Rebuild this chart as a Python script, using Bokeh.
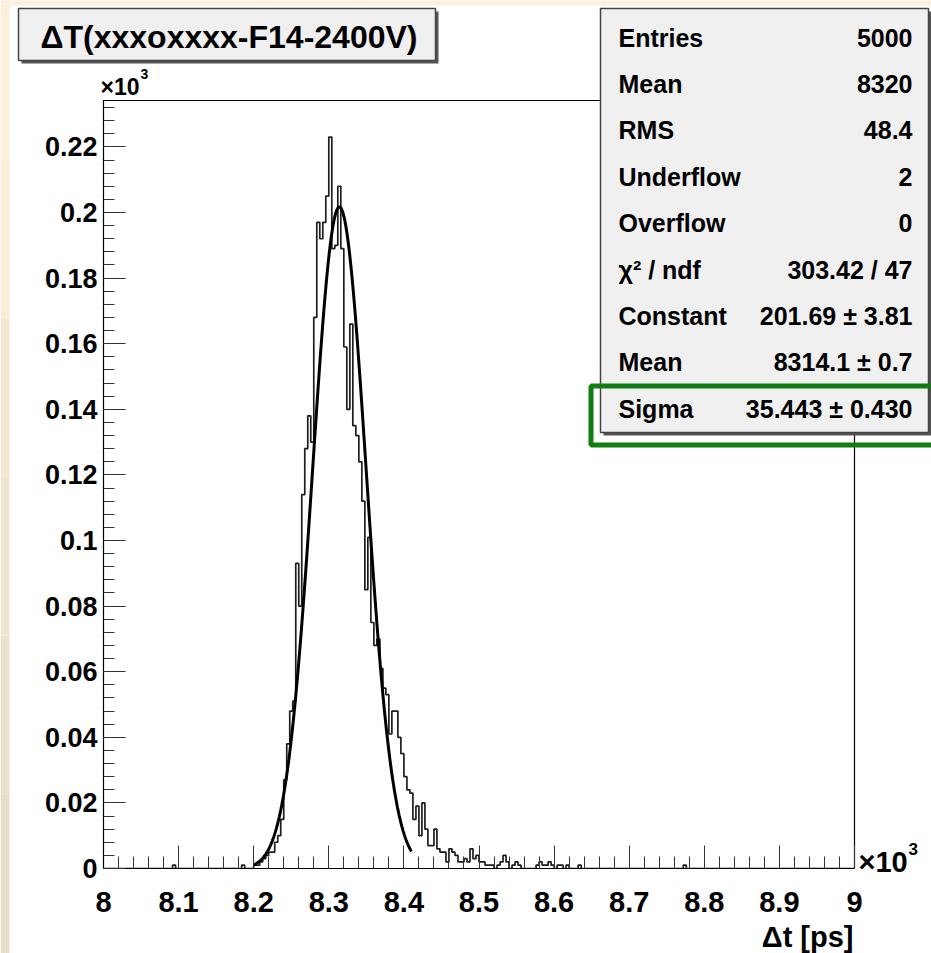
import numpy as np
from bokeh.plotting import figure
from bokeh.models import FixedTicker, Range1d
from bokeh.core.properties import value
from bokeh.embed import file_html
from bokeh.resources import INLINE

# ---------------- data ----------------
hist_start = 8000.0      # ps
hist_stop = 9000.0       # ps
bin_width = 4.0          # ps  (250 bins)

counts = [
    0, 0, 0, 0, 0, 0, 0, 0, 0, 0, 0, 0, 0, 0, 0, 0, 0, 0, 0, 0, 0, 0, 0, 1, 0,        # 8000-8100
    0, 0, 0, 0, 0, 0, 0, 0, 0, 0, 0, 0, 0, 0, 0, 0, 0, 0, 0, 0, 0, 1, 0, 0, 0,        # 8100-8200
    1, 1, 2, 3, 4, 5, 5, 8, 10, 15, 27, 38, 48, 51, 93, 80, 114, 128, 138, 130,        # 8200-8280
    168, 197, 192, 197, 205,                                                            # 8280-8300
    223, 189, 190, 208, 189, 159, 140, 166, 135, 132, 124, 112, 85, 101, 75,            # 8300-8360
    68, 70, 61, 55, 53, 41, 48, 48, 40, 35,                                             # 8360-8400
    28, 24, 23, 15, 19, 10, 20, 12, 7, 7, 12, 6, 5, 5, 2, 6, 5, 4, 2, 2,                # 8400-8480
    3, 2, 6, 3, 4,                                                                      # 8480-8500
    2, 2, 1, 1, 1, 0, 1, 2, 4, 2, 0, 1, 2, 1, 0, 0, 0, 0, 0, 1, 2, 1, 1, 2, 1,          # 8500-8600
    0, 1, 1, 0, 1, 0, 0, 0, 1, 0, 0, 0, 0, 0, 0, 0, 0, 0, 0, 0, 0, 0, 0, 0, 0,          # 8600-8700
    0, 0, 0, 0, 0, 0, 0, 0, 0, 0, 0, 0, 0, 0, 0, 0, 0, 0, 1, 0, 0, 0, 0, 0, 0,          # 8700-8800
    0, 0, 0, 0, 0, 0, 0, 0, 0, 0, 0, 0, 0, 0, 0, 0, 0, 0, 0, 0, 0, 0, 0, 0, 0,          # 8800-8900
    0, 0, 0, 0, 0, 0, 0, 0, 0, 0, 0, 0, 0, 0, 0, 0, 0, 0, 0, 0, 0, 0, 0, 0, 0,          # 8900-9000
]

# Gaussian fit parameters (as printed in the stats box)
fit_constant = 201.69
fit_mean = 8314.1
fit_sigma = 35.443
fit_min = 8200.0
fit_max = 8410.0

x_ticks = [8000, 8100, 8200, 8300, 8400, 8500, 8600, 8700, 8800, 8900, 9000]
x_tick_labels = ["8", "8.1", "8.2", "8.3", "8.4", "8.5", "8.6", "8.7", "8.8", "8.9", "9"]
y_ticks = [0, 20, 40, 60, 80, 100, 120, 140, 160, 180, 200, 220]
y_tick_labels = ["0", "0.02", "0.04", "0.06", "0.08", "0.1", "0.12", "0.14", "0.16",
                 "0.18", "0.2", "0.22"]

title_text = "\u0394T(xxxoxxxx-F14-2400V)"
x_title = "\u0394t [ps]"
exp_text = "\u00d710"
exp_power = "3"

stats_names = ["Entries", "Mean", "RMS", "Underflow", "Overflow", "\u03c7\u00b2 / ndf",
               "Constant", "Mean", "Sigma"]
stats_values = ["5000", "8320", "48.4", "2", "0", "303.42 / 47",
                "201.69 \u00b1 3.81", "8314.1 \u00b1 0.7", "35.443 \u00b1 0.430"]

# ---------------- main histogram figure ----------------
W, H = 931, 953
SANS = "Liberation Sans"

p = figure(width=W, height=H, output_backend="svg", toolbar_location=None,
           x_range=Range1d(hist_start, hist_stop),
           y_range=Range1d(0, 1.05 * max(counts)),
           min_border_left=103, min_border_right=77,
           min_border_top=100, min_border_bottom=85)
p.styles = {"position": "absolute", "top": "0px", "left": "0px"}
p.background_fill_color = "white"
p.border_fill_color = "white"
p.outline_line_color = "black"
p.outline_line_width = 1.2
p.xgrid.visible = False
p.ygrid.visible = False

edges = hist_start + bin_width * np.arange(len(counts) + 1)
ys = list(counts) + [counts[-1]]
p.step(x=edges, y=ys, mode="after", line_color="#1e1e1e", line_width=1.7)

xf = np.linspace(fit_min, fit_max, 400)
yf = fit_constant * np.exp(-0.5 * ((xf - fit_mean) / fit_sigma) ** 2)
p.line(xf, yf, line_color="black", line_width=3)

xa = p.xaxis[0]
xa.ticker = FixedTicker(ticks=x_ticks, minor_ticks=list(np.arange(hist_start, hist_stop + 1, 20)))
xa.major_label_overrides = dict(zip(x_ticks, x_tick_labels))
xa.major_tick_in = 23
xa.major_tick_out = 0
xa.minor_tick_in = 12
xa.minor_tick_out = 0
xa.major_label_standoff = 23
xa.major_label_text_font = SANS
xa.major_label_text_font_style = "bold"
xa.major_label_text_font_size = "29px"
xa.major_label_text_color = "black"

ya = p.yaxis[0]
ya.ticker = FixedTicker(ticks=y_ticks, minor_ticks=list(np.arange(0, 236, 4)))
ya.major_label_overrides = dict(zip(y_ticks, y_tick_labels))
ya.major_tick_in = 22
ya.major_tick_out = 0
ya.minor_tick_in = 11
ya.minor_tick_out = 0
ya.major_label_standoff = 6
ya.major_label_text_font = SANS
ya.major_label_text_font_style = "bold"
ya.major_label_text_font_size = "27px"
ya.major_label_text_color = "black"

for ax in (xa, ya):
    ax.axis_line_color = "black"
    ax.major_tick_line_color = "#333333"
    ax.minor_tick_line_color = "#333333"

# ---------------- overlay figure (pixel coordinates, y downwards) ----------------
q = figure(width=W, height=H, output_backend="svg", toolbar_location=None,
           x_range=Range1d(0, W), y_range=Range1d(H, 0),
           x_axis_type=None, y_axis_type=None, min_border=0)
q.styles = {"position": "absolute", "top": "0px", "left": "0px", "pointer-events": "none"}
q.background_fill_alpha = 0
q.border_fill_alpha = 0
q.outline_line_color = None


def rect(l, t, r, b, **kw):
    q.quad(left=[l], right=[r], top=[t], bottom=[b], **kw)


def txt(xs, ys_, texts, size, align="left", style="bold"):
    q.text(x=xs, y=ys_, text=texts, text_font=value(SANS), text_font_size=value(size),
           text_font_style=style, text_align=align, text_baseline="middle", text_color="black")


# slide background strips
rect(0, 0, W, 5, fill_color="#fcf0da", line_alpha=0)
band_cols = ["#fcf0da", "#f8edd7", "#f3e9d3", "#eee5d0", "#eae2cd", "#e6dfca"]
for k, c in enumerate(band_cols):
    rect(0, k * H / len(band_cols), 9, (k + 1) * H / len(band_cols), fill_color=c, line_alpha=0)

# title box with shadow
rect(21, 11, 438, 63, fill_color="#555555", line_alpha=0)
rect(18, 8, 435, 60, fill_color="#f0f0f0", line_color="#444444", line_width=1.5)
txt([40], [36], [title_text], "32px")

# axis multipliers + x title
txt([100], [86], [exp_text], "23px")
txt([140], [73], [exp_power], "14px")
txt([858], [861], [exp_text], "29px")
txt([908], [848], [exp_power], "17px")
txt([853], [936], [x_title], "29px", align="right")

# stats box with shadow
rect(603, 11, 931, 435, fill_color="#555555", line_alpha=0)
rect(600, 8, 928, 432, fill_color="#f0f0f0", line_color="#444444", line_width=1.5)
row_y = [37 + 46.4 * i for i in range(len(stats_names))]
txt([618] * len(stats_names), row_y, stats_names, "25px")
txt([912] * len(stats_values), row_y, stats_values, "25px", align="right")

# green highlight around the Sigma row
rect(590.5, 385.5, 940, 444.5, fill_alpha=0, line_color="#0f7d12", line_width=5)

open("out.html", "w").write(file_html([p, q], INLINE))
